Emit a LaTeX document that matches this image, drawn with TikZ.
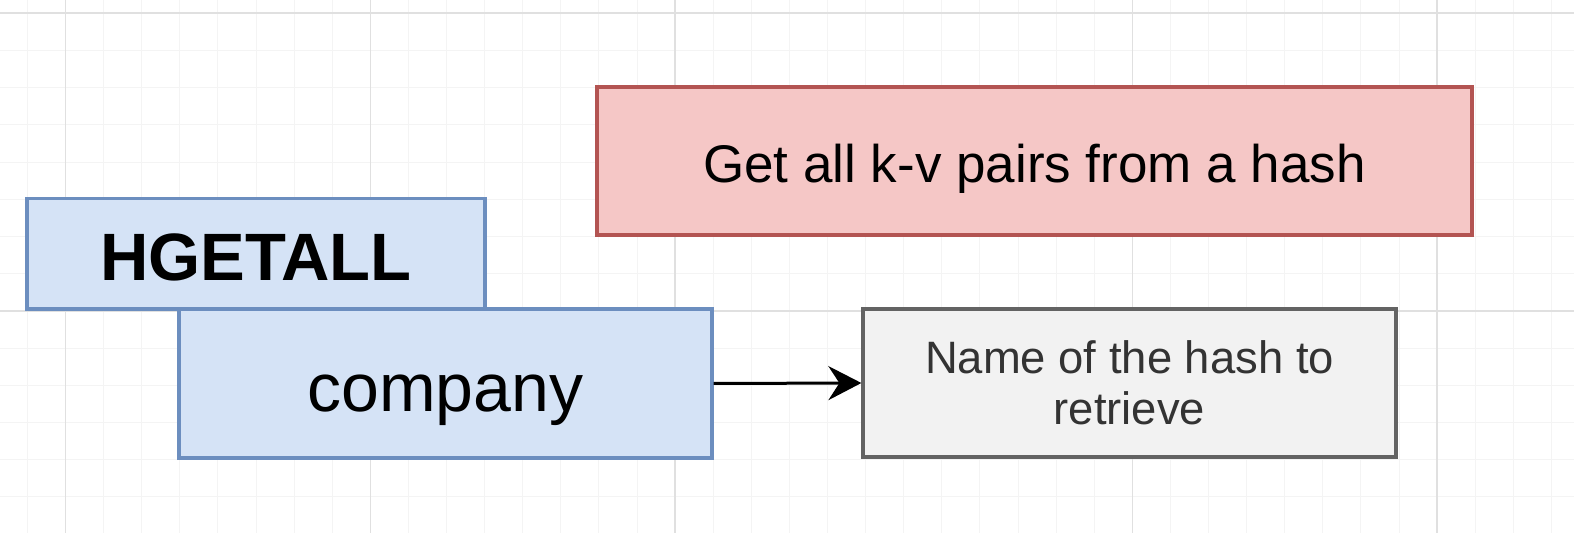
\documentclass[tikz,border=0pt]{standalone}
\usepackage{fontspec}
\setmainfont{Liberation Sans}
\usetikzlibrary{arrows.meta}
\definecolor{blueFill}{HTML}{D5E3F6}
\definecolor{blueLine}{HTML}{6C8EBF}
\definecolor{redFill}{HTML}{F5C7C6}
\definecolor{redLine}{HTML}{B35452}
\definecolor{grayFill}{HTML}{F2F2F2}
\definecolor{grayLine}{HTML}{636363}
\definecolor{grayText}{HTML}{333333}
\definecolor{gridMinor}{HTML}{F4F4F4}
\definecolor{gridMajor}{HTML}{E0E0E0}
\tikzset{
	minorline/.style={gridMinor, line width=0.5pt},
	majorline/.style={gridMajor, line width=0.8pt},
	cmdbox/.style={draw=blueLine, fill=blueFill, line width=1.6pt, inner sep=0pt, text depth=0pt},
	notebox/.style={draw=redLine, fill=redFill, line width=1.6pt, inner sep=0pt, text depth=0pt},
	argbox/.style={draw=grayLine, fill=grayFill, line width=1.6pt, inner sep=0pt, text=grayText, align=center},
	arrowline/.style={black, line width=1.5pt, -{Stealth[length=16.5pt, width=17pt, inset=5.5pt]}}
}
\begin{document}
\begin{tikzpicture}[x=0.5pt, y=-0.5pt]
		\useasboundingbox[fill=white] (0,0) rectangle (1574,533);
		\foreach \k in {-1,...,39}
			\draw[minorline] ({65.5+38.1*\k},0) -- ({65.5+38.1*\k},533);
		\foreach \j in {0,...,14}
			\draw[minorline] (0,{13.3+37.2*\j}) -- (1574,{13.3+37.2*\j});
		\foreach \k in {0,8,16,28,36}
			\draw[majorline] ({65.5+38.1*\k},0) -- ({65.5+38.1*\k},533);
		\foreach \j in {0,8}
			\draw[majorline] (0,{13.3+37.2*\j}) -- (1574,{13.3+37.2*\j});
		\node (hgetall) at (256,253.75)[cmdbox, minimum width=229pt, minimum height=55.25pt, text height=27.2pt, font=\fontsize{33.5}{40}\selectfont\bfseries]{HGETALL};
		\node (company) at (445.5,383.5)[cmdbox, minimum width=266.5pt, minimum height=74.5pt, text height=28.5pt, font=\fontsize{34}{40}\selectfont]{company};
		\node (desc) at (1034.5,161)[notebox, minimum width=437.5pt, minimum height=74pt, text height=22pt, font=\fontsize{26.5}{32}\selectfont]{Get all k-v pairs from a hash};
		\node (hashname) at (1129.5,383)[argbox, minimum width=266.5pt, minimum height=74pt, font=\fontsize{22.7}{25.5}\selectfont]{\raisebox{-1.5pt}{Name of the hash to}\\\raisebox{-1.5pt}{retrieve}};
		\draw[arrowline] (company.east) -- (hashname.west);
	\end{tikzpicture}
\end{document}
